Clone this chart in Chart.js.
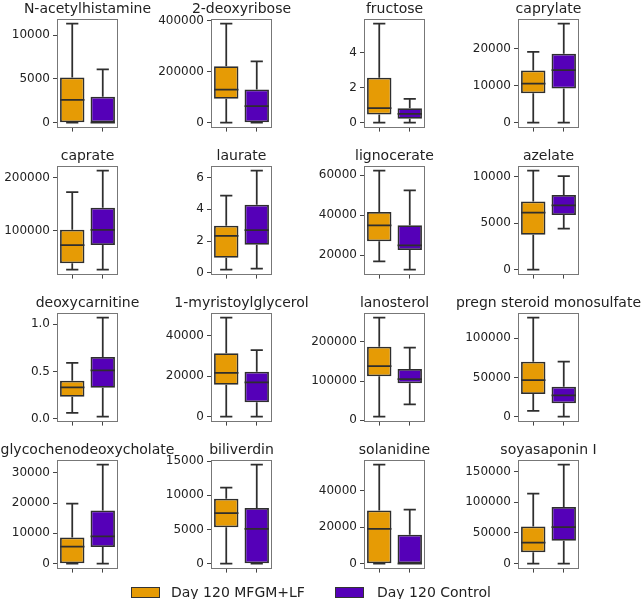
<!DOCTYPE html>
<html>
<head>
<meta charset="utf-8">
<script src="https://cdn.jsdelivr.net/npm/chart.js@4.4.1/dist/chart.umd.min.js"></script>
<style>
    html, body {
        margin: 0;
        padding: 0;
        background: #ffffff;
    }
    #page {
        position: relative;
        width: 643px;
        height: 599px;
        overflow: hidden;
        background: #ffffff;
        font-family: "DejaVu Sans", sans-serif;
    }
    #page canvas {
        position: absolute;
    }
    .legend-patch {
        position: absolute;
        width: 27px;
        height: 9px;
        border: 1px solid #333333;
    }
    .legend-text {
        position: absolute;
        font-size: 14px;
        line-height: 16px;
        color: #222222;
        white-space: nowrap;
    }
</style>
</head>
<body>
<div id="page"></div>
<script>
const metabolites = [
    "N-acetylhistamine", "2-deoxyribose", "fructose", "caprylate",
    "caprate", "laurate", "lignocerate", "azelate",
    "deoxycarnitine", "1-myristoylglycerol", "lanosterol", "pregn steroid monosulfate",
    "glycochenodeoxycholate", "biliverdin", "solanidine", "soyasaponin I"
];

const groups = ["Day 120 MFGM+LF", "Day 120 Control"];

// [lower whisker, Q1, median, Q3, upper whisker]
const mfgmStats = [
    [0, 0, 2600, 5150, 11300],
    [0, 93800, 130000, 221000, 388000],
    [0, 0.46, 0.82, 2.55, 5.63],
    [0, 8000, 10600, 14100, 19200],
    [27400, 39400, 73200, 101900, 172600],
    [0.19, 0.95, 2.32, 2.97, 4.86],
    [17040, 27030, 34970, 41590, 62140],
    [0, 3750, 6120, 7300, 10610],
    [0.06, 0.233, 0.332, 0.402, 0.589],
    [0, 15800, 21650, 31300, 48900],
    [9300, 112000, 138200, 187300, 261000],
    [7270, 28950, 46800, 70150, 126300],
    [0, 0, 5580, 8670, 19800],
    [0, 5340, 7380, 9520, 11130],
    [0, 0, 19070, 29050, 54170],
    [0, 18400, 34000, 60500, 113900]
];

const controlStats = [
    [0, 0, 0, 2950, 6090],
    [0, 0, 65000, 130000, 240600],
    [0, 0.22, 0.5, 0.82, 1.35],
    [0, 9270, 14200, 18700, 26800],
    [27400, 73700, 101900, 143200, 212600],
    [0.25, 1.77, 2.69, 4.29, 6.44],
    [12880, 22640, 24980, 34970, 52390],
    [4390, 5860, 6890, 8000, 10030],
    [0.021, 0.328, 0.511, 0.652, 1.068],
    [0, 7110, 16990, 22220, 32940],
    [40700, 94100, 105100, 130500, 184700],
    [0, 17090, 27300, 38270, 70150],
    [0, 5480, 9000, 17540, 32640],
    [0, 0, 5100, 8160, 14480],
    [0, 0, 0, 15800, 29650],
    [0, 37200, 59400, 92200, 160800]
];

const tickValues = [
    [0, 5000, 10000],
    [0, 200000, 400000],
    [0, 2, 4],
    [0, 10000, 20000],
    [100000, 200000],
    [0, 2, 4, 6],
    [20000, 40000, 60000],
    [0, 5000, 10000],
    [0, 0.5, 1.0],
    [0, 20000, 40000],
    [0, 100000, 200000],
    [0, 50000, 100000],
    [0, 10000, 20000, 30000],
    [0, 5000, 10000, 15000],
    [0, 20000, 40000],
    [0, 50000, 100000, 150000]
];

const tickLabels = [
    ["0", "5000", "10000"],
    ["0", "200000", "400000"],
    ["0", "2", "4"],
    ["0", "10000", "20000"],
    ["100000", "200000"],
    ["0", "2", "4", "6"],
    ["20000", "40000", "60000"],
    ["0", "5000", "10000"],
    ["0.0", "0.5", "1.0"],
    ["0", "20000", "40000"],
    ["0", "100000", "200000"],
    ["0", "50000", "100000"],
    ["0", "10000", "20000", "30000"],
    ["0", "5000", "10000", "15000"],
    ["0", "20000", "40000"],
    ["0", "50000", "100000", "150000"]
];

const groupColors = ["#e69b05", "#5500b8"];
const edgeColor = "#2e2e2e";

// panel geometry (page pixels)
const colLeft = [57, 210.7, 364.3, 518];
const rowTop = [19, 165.8, 312.6, 459.4];
const plotWidth = 61;
const plotHeight = 108.8;
const sideWidth = 77;
const titleBlock = 19.8;
const bottomBlock = 11.4;

Chart.defaults.font.family = "'DejaVu Sans', sans-serif";
Chart.defaults.color = "#222222";

const boxPlugin = {
    id: "boxWhiskers",
    afterDatasetsDraw(chart) {
        let ctx = chart.ctx;
        let x = chart.scales.x;
        let y = chart.scales.y;
        let meta = chart.getDatasetMeta(0);
        let stats = chart.options.plugins.boxWhiskers.stats;
        ctx.save();
        ctx.strokeStyle = edgeColor;
        ctx.lineWidth = 1.75;
        ctx.lineCap = "butt";
        stats.forEach((s, i) => {
            let cx = x.getPixelForValue(i);
            let half = meta.data[i].width / 2;
            let cap = half / 2;
            let yLow = y.getPixelForValue(s[0]);
            let yQ1 = y.getPixelForValue(s[1]);
            let yMed = y.getPixelForValue(s[2]);
            let yQ3 = y.getPixelForValue(s[3]);
            let yHigh = y.getPixelForValue(s[4]);
            ctx.beginPath();
            ctx.moveTo(cx, yQ3);
            ctx.lineTo(cx, yHigh);
            ctx.moveTo(cx - cap, yHigh);
            ctx.lineTo(cx + cap, yHigh);
            ctx.moveTo(cx, yQ1);
            ctx.lineTo(cx, yLow);
            ctx.moveTo(cx - cap, yLow);
            ctx.lineTo(cx + cap, yLow);
            ctx.moveTo(cx - half, yMed);
            ctx.lineTo(cx + half, yMed);
            ctx.stroke();
        });
        ctx.restore();
    },
    afterDraw(chart) {
        let ctx = chart.ctx;
        let a = chart.chartArea;
        ctx.save();
        ctx.strokeStyle = "#777777";
        ctx.lineWidth = 1;
        ctx.strokeRect(Math.round(a.left) + 0.5, Math.round(a.top) + 0.5,
                Math.round(a.right - a.left) - 1, Math.round(a.bottom - a.top) - 1);
        ctx.restore();
    }
};

function initPanel(p) {
    let page = document.getElementById("page");
    let canvas = document.createElement("canvas");
    let width = sideWidth * 2 + plotWidth;
    let height = titleBlock + plotHeight + bottomBlock;
    let col = p % 4;
    let row = Math.floor(p / 4);
    canvas.width = Math.round(width);
    canvas.height = Math.round(height);
    canvas.style.left = (colLeft[col] - sideWidth) + "px";
    canvas.style.top = (rowTop[row] - titleBlock) + "px";
    page.appendChild(canvas);

    let stats = [mfgmStats[p], controlStats[p]];
    let lo = Math.min(stats[0][0], stats[1][0]);
    let hi = Math.max(stats[0][4], stats[1][4]);
    let pad = (hi - lo) * 0.05;

    new Chart(canvas.getContext("2d"), {
        type: "bar",
        data: {
            labels: groups,
            datasets: [
                {
                    label: metabolites[p],
                    data: stats.map((s) => [s[1], s[3]]),
                    backgroundColor: groupColors,
                    borderColor: edgeColor,
                    borderWidth: 1.75,
                    borderSkipped: false,
                    categoryPercentage: 1,
                    barPercentage: 0.8
                }
            ]
        },
        options: {
            responsive: false,
            animation: false,
            events: [],
            layout: {padding: 0},
            scales: {
                x: {
                    type: "category",
                    offset: true,
                    border: {display: false},
                    grid: {
                        offset: false,
                        drawOnChartArea: false,
                        drawTicks: true,
                        tickLength: 4,
                        color: "#444444"
                    },
                    ticks: {display: false},
                    afterFit: (scale) => {
                        scale.height = bottomBlock;
                    }
                },
                y: {
                    type: "linear",
                    position: "left",
                    min: lo - pad,
                    max: hi + pad,
                    border: {display: false},
                    grid: {
                        drawOnChartArea: false,
                        drawTicks: true,
                        tickLength: 4,
                        color: "#444444"
                    },
                    ticks: {
                        autoSkip: false,
                        padding: 3,
                        color: "#222222",
                        font: {size: 12},
                        callback: (value, index) => tickLabels[p][index]
                    },
                    afterBuildTicks: (scale) => {
                        scale.ticks = tickValues[p].map((v) => ({value: v}));
                    },
                    afterFit: (scale) => {
                        scale.width = sideWidth;
                    }
                },
                side: {
                    type: "linear",
                    position: "right",
                    display: true,
                    border: {display: false},
                    grid: {display: false},
                    ticks: {display: false},
                    afterFit: (scale) => {
                        scale.width = sideWidth;
                    }
                }
            },
            plugins: {
                legend: {display: false},
                tooltip: {enabled: false},
                title: {
                    display: true,
                    text: metabolites[p],
                    color: "#222222",
                    font: {size: 14, weight: "normal", lineHeight: 1.2},
                    padding: {top: 2, bottom: 1}
                },
                boxWhiskers: {stats: stats}
            }
        },
        plugins: [boxPlugin]
    });
}

function initLegend() {
    let page = document.getElementById("page");
    let items = [
        {patch: 131, text: 171},
        {patch: 335, text: 377}
    ];
    items.forEach((item, i) => {
        let patch = document.createElement("div");
        patch.className = "legend-patch";
        patch.style.left = item.patch + "px";
        patch.style.top = "587px";
        patch.style.background = groupColors[i];
        page.appendChild(patch);

        let text = document.createElement("div");
        text.className = "legend-text";
        text.style.left = item.text + "px";
        text.style.top = "584px";
        text.textContent = groups[i];
        page.appendChild(text);
    });
}

for (let p = 0; p < metabolites.length; p++) {
    initPanel(p);
}
initLegend();
</script>
</body>
</html>
